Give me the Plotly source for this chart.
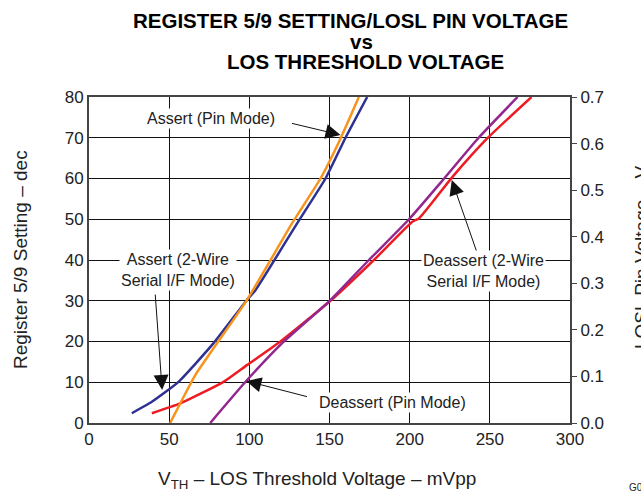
import plotly.graph_objects as go

# Assert (2-Wire Serial I/F Mode) - register setting (dec), left axis
assert_2w_x = [26.7, 39.2, 55.8, 77.7, 98.5, 103.8, 129.8, 147.5, 160.0, 173.5]
assert_2w_y = [2.4, 5.2, 10.1, 19.6, 30.2, 32.6, 49.0, 60.0, 70.0, 80.0]

# Deassert (2-Wire Serial I/F Mode) - register setting (dec), left axis
deassert_2w_x = [39.2, 56.9, 83.9, 98.5, 119.4, 150.6, 177.7, 201.7, 205.8, 226.7, 248.5, 276.0]
deassert_2w_y = [2.4, 4.8, 10.1, 14.2, 20.0, 30.0, 40.0, 49.4, 50.2, 60.4, 69.9, 80.0]

# Assert (Pin Mode) - LOSL pin voltage (V), right axis
assert_pin_x = [50.6, 66.3, 98.5, 126.7, 144.4, 156.9, 168.3]
assert_pin_y = [0.0, 0.103, 0.264, 0.429, 0.525, 0.611, 0.70]

# Deassert (Pin Mode) - LOSL pin voltage (V), right axis
deassert_pin_x = [75.6, 97.5, 120.0, 150.6, 174.6, 199.6, 221.5, 243.0, 267.3]
deassert_pin_y = [0.0, 0.088, 0.170, 0.264, 0.350, 0.4375, 0.525, 0.6125, 0.70]

x_ticks = [0, 50, 100, 150, 200, 250, 300]
left_ticks = [0, 10, 20, 30, 40, 50, 60, 70, 80]
right_ticks = [0.0, 0.1, 0.2, 0.3, 0.4, 0.5, 0.6, 0.7]

BLUE = "#2E3192"
ORANGE = "#F7941D"
RED = "#ED1C24"
PURPLE = "#92278F"
FONT = "Liberation Sans, Arial, sans-serif"

W, H = 641, 493
L, R, T, B = 89, 570, 97, 423  # plot area in pixels


def ppx(px):
    return (px - L) / (R - L)


def ppy(py):
    return (B - py) / (B - T)


def px2d(px, py):
    return (px - L) / 1.6, (B - py) / 4.075


fig = go.Figure()
fig.add_trace(go.Scatter(x=assert_2w_x, y=assert_2w_y, mode="lines",
                         line=dict(color=BLUE, width=2.5, shape="spline", smoothing=0.5)))
fig.add_trace(go.Scatter(x=deassert_2w_x, y=deassert_2w_y, mode="lines",
                         line=dict(color=RED, width=2.5, shape="spline", smoothing=0.5)))
fig.add_trace(go.Scatter(x=assert_pin_x, y=assert_pin_y, mode="lines", yaxis="y2",
                         line=dict(color=ORANGE, width=2.5, shape="spline", smoothing=0.4)))
fig.add_trace(go.Scatter(x=deassert_pin_x, y=deassert_pin_y, mode="lines", yaxis="y2",
                         line=dict(color=PURPLE, width=2.5, shape="spline", smoothing=0.5)))

ann = []
title_specs = [("<b>REGISTER 5/9 SETTING/LOSL PIN VOLTAGE</b>", 350, 20),
               ("<b>vs</b>", 361, 41),
               ("<b>LOS THRESHOLD VOLTAGE</b>", 365, 62)]
for t, px, py in title_specs:
    ann.append(dict(text=t, x=ppx(px), y=ppy(py), xref="paper", yref="paper",
                    xanchor="center", yanchor="middle", showarrow=False,
                    font=dict(family=FONT, size=20.5, color="#000")))

# axis titles
ann.append(dict(text="V<sub>TH</sub> – LOS Threshold Voltage – mVpp", x=ppx(317), y=ppy(480),
                xref="paper", yref="paper", xanchor="center", yanchor="middle", showarrow=False,
                font=dict(family=FONT, size=19, color="#222")))
ann.append(dict(text="Register 5/9 Setting – dec", x=ppx(20), y=ppy(260), textangle=-90,
                xref="paper", yref="paper", xanchor="center", yanchor="middle", showarrow=False,
                font=dict(family=FONT, size=19, color="#222")))
ann.append(dict(text="LOSL Pin Voltage – V", x=ppx(641), y=ppy(258), textangle=-90,
                xref="paper", yref="paper", xanchor="center", yanchor="middle", showarrow=False,
                font=dict(family=FONT, size=19, color="#222")))
ann.append(dict(text="G001", x=ppx(627), y=ppy(487),
                xref="paper", yref="paper", xanchor="left", yanchor="middle", showarrow=False,
                font=dict(family=FONT, size=10, color="#222")))

labels = [("Assert (Pin Mode)", 211, 118),
          ("Assert (2-Wire<br>Serial I/F Mode)", 178, 270),
          ("Deassert (2-Wire<br>Serial I/F Mode)", 483, 271),
          ("Deassert (Pin Mode)", 392, 402)]
for t, px, py in labels:
    x, y = px2d(px, py)
    ann.append(dict(text=t, x=x, y=y, xref="x", yref="y", showarrow=False,
                    xanchor="center", yanchor="middle", bgcolor="white",
                    font=dict(family=FONT, size=16, color="#222")))

arrows = [((290, 123), (340, 135)),
          ((155, 293), (162, 390)),
          ((476, 252), (451, 180)),
          ((308, 397), (246, 381))]
for (tx, ty), (hx, hy) in arrows:
    ax, ay = px2d(tx, ty)
    x, y = px2d(hx, hy)
    ann.append(dict(text="", x=x, y=y, ax=ax, ay=ay, xref="x", yref="y", axref="x", ayref="y",
                    showarrow=True, arrowhead=2, arrowsize=3, arrowwidth=1, arrowcolor="#111",
                    standoff=0))

fig.update_layout(
    width=W, height=H,
    margin=dict(l=L, r=W - R, t=T, b=H - B, autoexpand=False),
    paper_bgcolor="white", plot_bgcolor="white",
    showlegend=False,
    annotations=ann,
    xaxis=dict(range=[0, 300], tickvals=x_ticks, showgrid=True, gridcolor="#111", gridwidth=1,
               zeroline=False, showline=True, linecolor="#444", linewidth=2, mirror=True,
               ticks="", tickfont=dict(family=FONT, size=17, color="#222")),
    yaxis=dict(range=[0, 80], tickvals=left_ticks, showgrid=True, gridcolor="#111", gridwidth=1,
               zeroline=False, showline=True, linecolor="#444", linewidth=2, mirror=True,
               ticks="", tickfont=dict(family=FONT, size=17, color="#222")),
    yaxis2=dict(range=[0, 0.7], tickvals=right_ticks, tickformat=".1f", overlaying="y", side="right",
                showgrid=False, zeroline=False, showline=False, ticks="outside", ticklen=6,
                tickcolor="#444", tickfont=dict(family=FONT, size=17, color="#222")),
)

fig.write_html("out.html", config={"displayModeBar": False},
               post_script="document.body.style.margin='0';document.body.style.overflow='hidden';")
